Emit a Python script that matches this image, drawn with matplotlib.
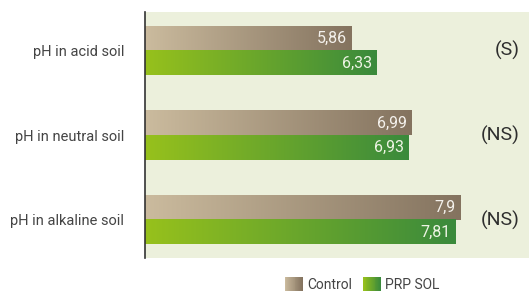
import numpy as np
import matplotlib.pyplot as plt
from matplotlib.colors import LinearSegmentedColormap
from matplotlib.patches import Rectangle
from matplotlib.legend_handler import HandlerBase

categories = ["pH in acid soil", "pH in neutral soil", "pH in alkaline soil"]
control = [5.86, 6.99, 7.9]
prp_sol = [6.33, 6.93, 7.81]
control_labels = ["5,86", "6,99", "7,9"]
prp_labels = ["6,33", "6,93", "7,81"]
significance = ["(S)", "(NS)", "(NS)"]

plt.rcParams['font.family'] = ['Roboto', 'DejaVu Sans']

cmap_control = LinearSegmentedColormap.from_list("ctl", ["#cbbb9e", "#84735f"])
cmap_prp = LinearSegmentedColormap.from_list("prp", ["#97c11c", "#3a8a3c"])

fig = plt.figure(figsize=(5.29, 2.93), dpi=100)
ax = fig.add_axes([145 / 529, 35 / 293, 384 / 529, 246 / 293])
ax.set_facecolor("#ecf0dc")

y = np.arange(len(categories))
h = 0.29
grad = np.linspace(0, 1, 256).reshape(1, -1)

bars_c = ax.barh(y - h / 2, control, height=h, left=0, color="none")
bars_p = ax.barh(y + h / 2, prp_sol, height=h, left=0, color="none")

xmin, xmax = 2.0, 9.18
for bars, cmap, labels, tcol in [(bars_c, cmap_control, control_labels, "#f4f1ec"),
                                 (bars_p, cmap_prp, prp_labels, "#eef4e4")]:
    for b, lab in zip(bars, labels):
        x1 = b.get_x() + b.get_width()
        y0 = b.get_y()
        y1 = y0 + b.get_height()
        ax.imshow(grad, cmap=cmap, aspect="auto", extent=(xmin, x1, y1, y0),
                  zorder=2, interpolation="bilinear")
        ax.text(x1 - 0.09, (y0 + y1) / 2, lab, ha="right", va="center",
                color=tcol, fontsize=11.5, zorder=3)

for yi, s in zip(y, significance):
    ax.text(0.975, yi, s, transform=ax.get_yaxis_transform(), ha="right",
            va="center", fontsize=14, color="#2e2e2e")

ax.set_xlim(xmin, xmax)
ax.set_ylim(2.45, -0.46)
ax.set_yticks(y)
ax.set_yticklabels(categories, fontsize=10.5, color="#444444")
ax.tick_params(axis="y", length=0, pad=15)
ax.set_xticks([])
for side in ["top", "right", "bottom"]:
    ax.spines[side].set_visible(False)
ax.spines["left"].set_color("#333333")
ax.spines["left"].set_linewidth(1.2)


class GradHandler(HandlerBase):
    def __init__(self, cmap):
        super().__init__()
        self.cmap = cmap

    def create_artists(self, legend, orig_handle, xdescent, ydescent, width,
                       height, fontsize, trans):
        n = 20
        arts = []
        for i in range(n):
            r = Rectangle((-xdescent + width * i / n, -ydescent - 1), width / n + 0.3,
                          height + 2, facecolor=self.cmap(i / (n - 1)),
                          edgecolor="none", transform=trans)
            arts.append(r)
        return arts


h_c = Rectangle((0, 0), 1, 1)
h_p = Rectangle((0, 1), 1, 1)
fig.legend([h_c, h_p], ["Control", "PRP SOL"],
           handler_map={h_c: GradHandler(cmap_control), h_p: GradHandler(cmap_prp)},
           loc="center", bbox_to_anchor=(362 / 529, 1 - 285 / 293), ncol=2,
           frameon=False, fontsize=10, handlelength=1.3, handleheight=0.8,
           handletextpad=0.3, columnspacing=0.8, labelcolor="#444444")

plt.savefig("out.png", dpi=100)
